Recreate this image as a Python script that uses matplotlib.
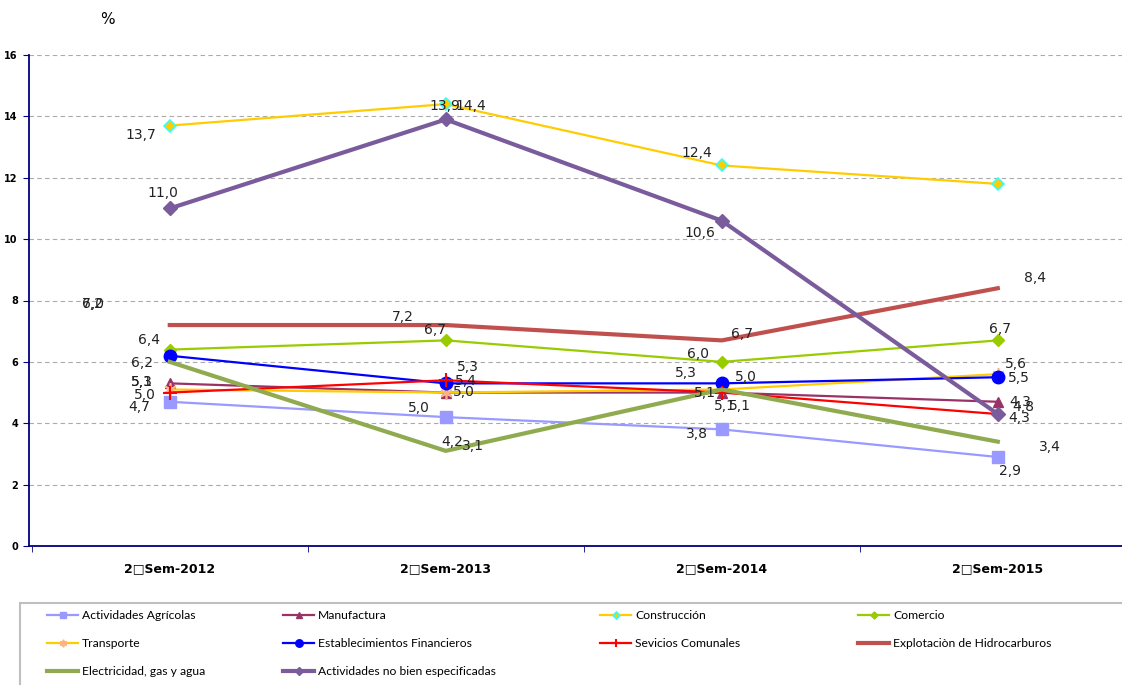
import matplotlib.pyplot as plt
from matplotlib.patches import Rectangle
from matplotlib.lines import Line2D

plt.rcParams['font.family'] = 'DejaVu Sans'

# Data
periods = ['2\u25a1Sem-2012', '2\u25a1Sem-2013', '2\u25a1Sem-2014', '2\u25a1Sem-2015']

agricolas = [4.7, 4.2, 3.8, 2.9]
manufactura = [5.3, 5.0, 5.0, 4.7]
construccion = [13.7, 14.4, 12.4, 11.8]
comercio = [6.4, 6.7, 6.0, 6.7]
transporte = [5.1, 5.0, 5.1, 5.6]
financieros = [6.2, 5.3, 5.3, 5.5]
comunales = [5.0, 5.4, 5.0, 4.3]
hidrocarburos = [7.2, 7.2, 6.7, 8.4]
electricidad = [6.0, 3.1, 5.1, 3.4]
no_especificadas = [11.0, 13.9, 10.6, 4.3]

# data labels as they sit in the original (moved by hand in the source)
label_text = ['13,7', '11,0', '6,0', '7,2', '6,4', '6,2', '5,3', '5,1', '5,0', '4,7',
              '13,9', '14,4', '7,2', '6,7', '5,3', '5,4', '5,0', '5,0', '4,2', '3,1',
              '12,4', '10,6', '6,7', '6,0', '5,3', '5,0', '5,1', '5,1', '5,1', '3,8',
              '8,4', '6,7', '5,6', '5,5', '4,3', '4,8', '4,3', '3,4', '2,9']
label_x = [-0.105, -0.025, -0.279, -0.279, -0.076, -0.101, -0.101, -0.101, -0.091, -0.109,
           0.996, 1.091, 0.844, 0.960, 1.080, 1.072, 1.065, 0.902, 1.022, 1.098,
           1.909, 1.920, 2.072, 1.913, 1.870, 2.087, 1.938, 2.011, 2.065, 1.909,
           3.134, 3.007, 3.065, 3.076, 3.080, 3.091, 3.076, 3.188, 3.043]
label_y = [13.39, 11.50, 7.89, 7.89, 6.71, 5.96, 5.34, 5.34, 4.92, 4.53,
           14.34, 14.34, 7.46, 7.04, 5.83, 5.38, 5.02, 4.50, 3.39, 3.26,
           12.81, 10.20, 6.91, 6.26, 5.64, 5.51, 4.99, 4.56, 4.56, 3.65,
           8.73, 7.07, 5.93, 5.47, 4.69, 4.53, 4.17, 3.23, 2.44]

x = list(range(len(periods)))

fig = plt.figure(figsize=(11.22, 6.85), dpi=100)
ax = fig.add_axes([29 / 1122, 1 - 546 / 685, 1 - 29 / 1122, 491 / 685])

lines = {}
lines['Actividades Agrícolas'] = ax.plot(x, agricolas, color='#9999FF', lw=1.6, marker='s', ms=8, zorder=3)[0]
lines['Manufactura'] = ax.plot(x, manufactura, color='#993366', lw=1.6, marker='^', ms=7, zorder=3)[0]
lines['Construcción'] = ax.plot(x, construccion, color='#FFCC00', lw=1.6, marker='D', ms=6,
                                mfc='#FFCC00', mec='#33FFFF', mew=1.2, zorder=3)[0]
lines['Comercio'] = ax.plot(x, comercio, color='#99CC00', lw=1.6, marker='D', ms=6, zorder=3)[0]
lines['Transporte'] = ax.plot(x, transporte, color='#FFCC00', lw=1.6, marker=(6, 2, 0), ms=9,
                              mec='#FFB380', mew=1.2, zorder=3)[0]
lines['Establecimientos Financieros'] = ax.plot(x, financieros, color='#0000FF', lw=1.6, marker='o', ms=9, zorder=3)[0]
lines['Sevicios Comunales'] = ax.plot(x, comunales, color='#FF0000', lw=1.6, marker='+', ms=10, mew=1.5, zorder=3)[0]
lines['Explotaciòn de Hidrocarburos'] = ax.plot(x, hidrocarburos, color='#C0504D', lw=3.0, zorder=3)[0]
lines['Electricidad, gas y agua'] = ax.plot(x, electricidad, color='#8FAA4F', lw=3.0, zorder=3)[0]
lines['Actividades no bien especificadas'] = ax.plot(x, no_especificadas, color='#7A5C9C', lw=3.0,
                                                     marker='D', ms=7, zorder=4)[0]

for t, lx, ly in zip(label_text, label_x, label_y):
    ax.text(lx, ly, t, fontsize=10, ha='center', va='center', color='#222222', zorder=5)

ax.set_xlim(-0.51, 3.45)
ax.set_ylim(0, 16)
ax.set_yticks(range(0, 17, 2))
ax.set_xticks(x)
ax.set_xticklabels(periods, fontsize=9, fontweight='bold')
ax.set_xticks([-0.5, 0.5, 1.5, 2.5], minor=True)
ax.tick_params(axis='x', which='major', length=0, pad=12)
ax.tick_params(axis='x', which='minor', length=4, color='#000080', direction='out')
ax.tick_params(axis='y', length=4, color='#000080', direction='out', labelsize=7, pad=4)
for lab in ax.get_yticklabels():
    lab.set_fontweight('bold')

ax.grid(axis='y', linestyle='--', color='#AAAAAA', lw=0.8, dashes=(4, 3))
ax.set_axisbelow(True)
for side in ['top', 'right']:
    ax.spines[side].set_visible(False)
for side in ['left', 'bottom']:
    ax.spines[side].set_color('#000080')
    ax.spines[side].set_linewidth(1.3)

fig.text(107 / 1122, 1 - 20 / 685, '%', fontsize=11, ha='center', va='center')

# legend box (runs off the figure at the right and bottom like the original)
fig.patches.append(Rectangle((20 / 1122, -0.2), 1.1, 0.2 + 1 - 603 / 685, transform=fig.transFigure,
                             fill=False, edgecolor='#BFBFBF', lw=1.5))

columns = [
    ['Actividades Agrícolas', 'Transporte', 'Electricidad, gas y agua'],
    ['Manufactura', 'Establecimientos Financieros', 'Actividades no bien especificadas'],
    ['Construcción', 'Sevicios Comunales'],
    ['Comercio', 'Explotaciòn de Hidrocarburos'],
]
col_x = [47, 283, 600, 858]
for names, cx in zip(columns, col_x):
    handles = []
    for n in names:
        src = lines[n]
        h = Line2D([], [], color=src.get_color(), lw=src.get_linewidth(), marker=src.get_marker(),
                   ms=src.get_markersize() * 0.6, mfc=src.get_markerfacecolor(),
                   mec=src.get_markeredgecolor(), mew=src.get_markeredgewidth())
        handles.append(h)
    fig.legend(handles, names, loc='upper left', bbox_to_anchor=(cx / 1122, 1 - 610 / 685),
               frameon=False, borderpad=0, borderaxespad=0, handlelength=2.6, handletextpad=0.3,
               labelspacing=1.4, prop={'family': 'Lato', 'size': 8.7})

fig.savefig('out.png', dpi=100)
